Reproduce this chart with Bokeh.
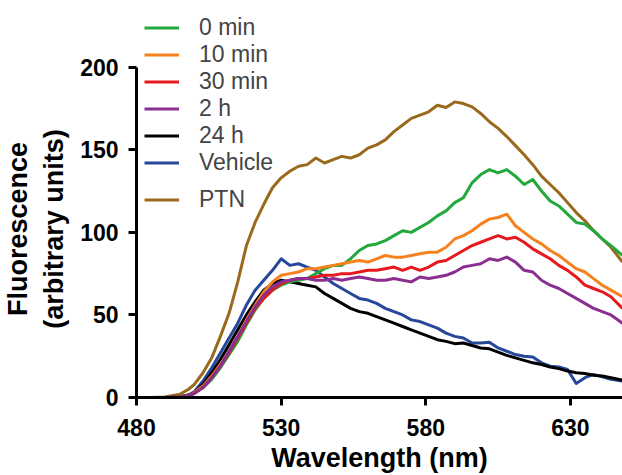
from bokeh.plotting import figure
from bokeh.models import Legend, LegendItem, FixedTicker
from bokeh.embed import file_html
from bokeh.resources import INLINE

wavelength = [480, 485, 490, 495, 498, 500, 503, 506, 509, 512, 515, 518, 521, 524, 527,
              530, 533, 536, 539, 542, 545, 548, 551, 554, 557, 560, 563, 566, 569, 572,
              575, 578, 581, 584, 587, 590, 593, 596, 599, 602, 605, 608, 611, 614, 617,
              620, 623, 626, 629, 632, 635, 638, 641, 644, 648]

min0 = [0, 0, 0, 0.3, 1, 2.5, 6, 11, 18, 26, 34, 44, 53, 60, 65,
        68, 70, 71, 72, 75, 78, 80, 80, 84, 89, 92, 93, 95, 98, 101,
        100, 103, 106, 110, 113, 118, 121, 130, 135, 138, 136, 138, 134, 129, 132,
        125, 119, 116, 111, 106, 105, 101, 96, 92, 86]

min10 = [0, 0, 0, 0.3, 1, 3, 7, 13, 20, 28, 37, 47, 56, 64, 70,
         74, 75, 76, 78, 78, 79, 80, 81, 82, 83, 82, 84, 86, 85, 85,
         86, 87, 88, 88, 91, 96, 98, 101, 105, 108, 109, 111, 104, 100, 96,
         93, 89, 86, 82, 78, 76, 72, 68, 65, 61]

min30 = [0, 0, 0, 0.3, 1, 2.5, 6, 12, 19, 27, 36, 45, 54, 60, 65,
         69, 71, 72, 72, 73, 74, 74, 75, 75, 76, 77, 77, 78, 79, 77,
         79, 77, 79, 82, 83, 86, 89, 92, 94, 96, 98, 96, 97, 94, 90,
         87, 84, 80, 77, 73, 68, 66, 64, 61, 54]

h2 = [0, 0, 0, 0.3, 1, 2.5, 6, 12, 19, 28, 37, 46, 55, 62, 67,
      70, 71, 72, 72, 71, 71, 72, 71, 72, 73, 72, 71, 71, 72, 71,
      70, 73, 72, 73, 74, 76, 79, 80, 81, 84, 83, 85, 82, 77, 76,
      71, 68, 66, 63, 60, 57, 54, 52, 50, 45]

h24 = [0, 0, 0, 0.3, 1.5, 3, 8, 15, 23, 32, 41, 50, 58, 65, 69,
       71, 70, 69, 68, 67, 63, 60, 57, 54, 52, 51, 49, 47, 45, 43,
       41, 39, 37, 35, 34, 32.6, 33, 31.5, 30, 29.5, 27.5, 25.5, 24, 22.5, 21,
       20, 18.5, 17.5, 16, 15, 14.5, 13.5, 13, 12, 10.5]

vehicle = [0, 0, 0, 0.4, 1.5, 3.5, 10, 18, 27, 36, 45, 56, 65, 71, 77,
           84, 80, 81, 79, 77, 73, 69, 66, 63, 60, 59, 57, 54, 52, 50,
           47, 46, 44, 42, 39, 37, 36, 33, 33, 33.5, 30, 28, 26, 25, 24.5,
           21, 19, 18.5, 17, 8.5, 12, 14, 12.5, 11, 10]

ptn = [0, 0, 0.3, 2, 5, 8, 15, 24, 37, 51, 70, 92, 106, 117, 127,
       133, 137, 140, 141, 145, 142, 144, 146, 145, 147, 151, 153, 156, 161, 165,
       169, 171, 173, 177, 175.6, 179, 178, 176, 172, 167, 163, 158, 152.5, 147, 141,
       134, 129, 124, 118, 112, 107, 101, 96, 91, 82]

series_names = ["0 min", "10 min", "30 min", "2 h", "24 h", "Vehicle", "PTN"]
series_values = [min0, min10, min30, h2, h24, vehicle, ptn]
series_colors = ["#22a83c", "#f5821f", "#e5191e", "#8a2f8f", "#000000", "#27479b", "#99691c"]

x_ticks = [480, 530, 580, 630]
y_ticks = [0, 50, 100, 150, 200]

FONT = "Liberation Sans"
PAD = "\u00a0" * 8

p = figure(width=622, height=475, x_range=(480, 648), y_range=(0, 240.4),
           output_backend="svg", toolbar_location=None,
           min_border_left=132, min_border_right=0, min_border_top=0, min_border_bottom=76)
p.outline_line_color = None
p.xgrid.visible = False
p.ygrid.visible = False
p.background_fill_color = None
p.border_fill_color = "white"

draw_order = [6, 5, 4, 0, 1, 2, 3]
rmap = {}
for i in draw_order:
    r = p.line(wavelength, series_values[i], line_color=series_colors[i], line_width=3,
               line_join="round")
    rmap[i] = r

for ax in (p.xaxis[0], p.yaxis[0]):
    ax.axis_line_width = 3
    ax.axis_line_color = "black"
    ax.major_tick_line_width = 3
    ax.major_tick_line_color = "black"
    ax.major_tick_out = 8
    ax.major_tick_in = 0
    ax.minor_tick_line_color = None
    ax.major_label_text_font = FONT
    ax.major_label_text_font_style = "bold"
    ax.major_label_text_font_size = "23px"
    ax.major_label_text_color = "black"
    ax.axis_label_text_font = FONT
    ax.axis_label_text_font_style = "bold"
    ax.axis_label_text_font_size = "27px"
    ax.axis_label_text_color = "black"

p.xaxis[0].ticker = FixedTicker(ticks=x_ticks)
p.yaxis[0].ticker = FixedTicker(ticks=y_ticks)
p.yaxis[0].bounds = (0, 200)
p.xaxis[0].axis_label = "Wavelength (nm)"
p.yaxis[0].axis_label = "Fluorescence" + PAD + "\n(arbitrary units)" + PAD
p.xaxis[0].major_label_standoff = 13
p.yaxis[0].major_label_standoff = 10
p.xaxis[0].axis_label_standoff = 4
p.yaxis[0].axis_label_standoff = 8


def make_legend(idx, loc):
    items = [LegendItem(label=series_names[i], renderers=[rmap[i]]) for i in idx]
    lg = Legend(items=items, location=loc, padding=0, spacing=0,
                label_height=25, glyph_height=25, glyph_width=35, label_standoff=20,
                label_text_font=FONT, label_text_font_size="23px",
                border_line_color=None, background_fill_color=None,
                background_fill_alpha=0, margin=0)
    return lg


p.add_layout(make_legend([0, 1, 2, 3, 4, 5], (8, 221)))
p.add_layout(make_legend([6], (8, 184)))

open("out.html", "w").write(file_html(p, INLINE))
